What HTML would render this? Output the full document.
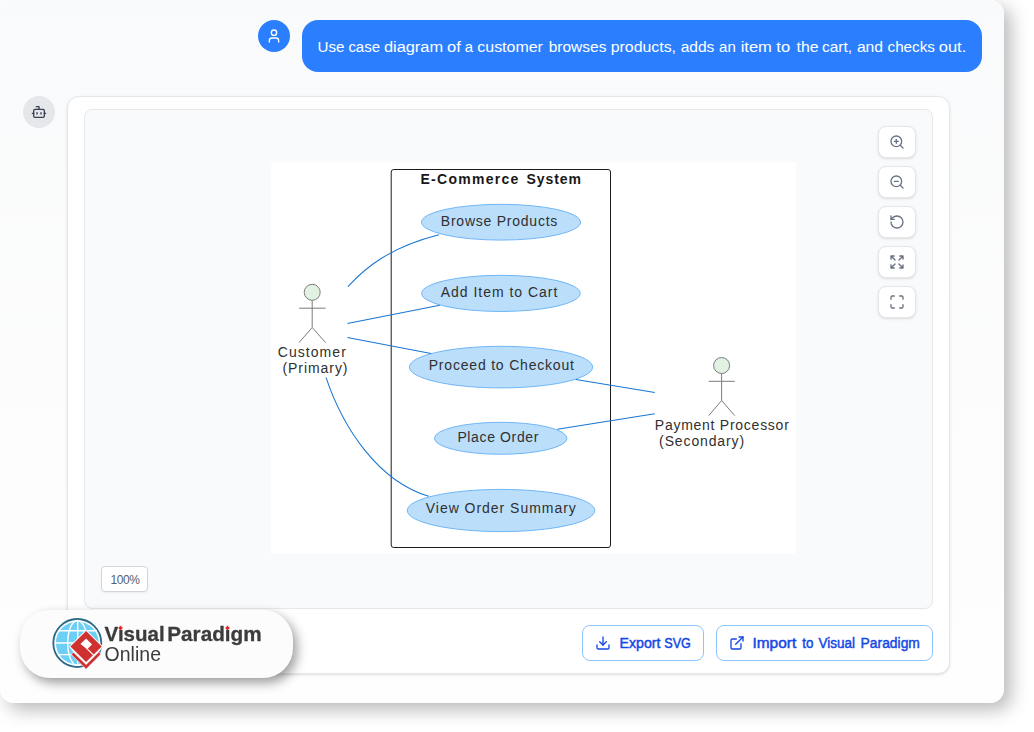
<!DOCTYPE html>
<html lang="en">
<head>
<meta charset="utf-8">
<title>Use Case Diagram</title>
<style>
*{box-sizing:border-box;margin:0;padding:0}
html,body{width:1034px;height:732px;overflow:hidden;background:#fff}
body{position:relative;font-family:"Liberation Sans",sans-serif}
.abs{position:absolute}
#frame{left:0;top:0;width:1004px;height:703px;border-radius:5px 14px 14px 14px;
  background:linear-gradient(180deg,#f9fafb 0%,#fefefe 100%);
  box-shadow:7px 7px 18px rgba(0,0,0,.27)}
#uavatar{left:258px;top:20px;width:32px;height:32px;border-radius:50%;background:#2b7fff}
#bubble{left:302px;top:20px;width:680px;height:52px;border-radius:16px;background:#2b7fff;color:#fff}
#bavatar{left:23px;top:96px;width:32px;height:32px;border-radius:50%;background:#e5e7eb}
#card{left:67px;top:96px;width:883px;height:578px;border-radius:12px;background:#fff;border:1px solid #e5e7eb;
  box-shadow:0 1px 3px rgba(0,0,0,.1),0 1px 2px -1px rgba(0,0,0,.1)}
#panel{left:84px;top:109px;width:849px;height:500px;border-radius:8px;background:#f9fafb;border:1px solid #e5e7eb}
.tb{left:878px;width:38px;height:32px;border-radius:8px;background:#fff;border:1px solid #e5e7eb;box-shadow:0 1px 3px rgba(0,0,0,.1),0 1px 2px -1px rgba(0,0,0,.1)}
.tb svg{position:absolute;left:10px;top:7px}
#zoom{left:101px;top:566px;width:47px;height:26px;border-radius:4px;background:#fff;border:1px solid #d1d5dc;
  font-size:12px;line-height:27px;text-align:center;color:#556070;letter-spacing:-.45px;padding-left:1px;box-shadow:0 1px 2px rgba(0,0,0,.05)}
.btn{top:625px;height:36px;border-radius:8px;background:#fff;border:1px solid #8ec5ff;color:#1447e6}
.btn svg{position:absolute;top:9px}
.btn svg.lbl{left:0;top:0}
#logo{left:20px;top:610px;width:273px;height:68px;border-radius:30px;background:#fcfcfc;will-change:transform;
  box-shadow:4px 5px 11px rgba(0,0,0,.38)}
</style>
</head>
<body>
<div id="frame" class="abs"></div>

<div id="uavatar" class="abs">
<svg class="abs" style="left:8px;top:8px" width="16" height="16" viewBox="0 0 24 24" fill="none" stroke="#fff" stroke-width="2" stroke-linecap="round" stroke-linejoin="round"><path d="M19 21v-2a4 4 0 0 0-4-4H9a4 4 0 0 0-4 4v2"/><circle cx="12" cy="7" r="4"/></svg>
</div>
<div id="bubble" class="abs"><svg class="abs" style="left:0;top:0" width="680" height="52" viewBox="302 20 680 52"><text y="52" transform="translate(0.5 0)" font-family="'Liberation Sans',sans-serif" font-size="15.5" fill="#fff"><tspan x="317.0" textLength="26.9" lengthAdjust="spacingAndGlyphs">Use</tspan> <tspan x="347.9" textLength="31.6" lengthAdjust="spacingAndGlyphs">case</tspan> <tspan x="383.4" textLength="59.2" lengthAdjust="spacingAndGlyphs">diagram</tspan> <tspan x="446.5" textLength="13.8" lengthAdjust="spacingAndGlyphs">of</tspan> <tspan x="464.2" textLength="8.3" lengthAdjust="spacingAndGlyphs">a</tspan> <tspan x="476.8" textLength="65.6" lengthAdjust="spacingAndGlyphs">customer</tspan> <tspan x="548.2" textLength="57.7" lengthAdjust="spacingAndGlyphs">browses</tspan> <tspan x="610.2" textLength="65.3" lengthAdjust="spacingAndGlyphs">products,</tspan> <tspan x="680.2" textLength="33.7" lengthAdjust="spacingAndGlyphs">adds</tspan> <tspan x="718.6" textLength="16.7" lengthAdjust="spacingAndGlyphs">an</tspan> <tspan x="740.2" textLength="31.2" lengthAdjust="spacingAndGlyphs">item</tspan> <tspan x="775.8" textLength="13.8" lengthAdjust="spacingAndGlyphs">to</tspan> <tspan x="796.0" textLength="22.0" lengthAdjust="spacingAndGlyphs">the</tspan> <tspan x="821.4" textLength="30.1" lengthAdjust="spacingAndGlyphs">cart,</tspan> <tspan x="856.4" textLength="26.2" lengthAdjust="spacingAndGlyphs">and</tspan> <tspan x="887.0" textLength="47.5" lengthAdjust="spacingAndGlyphs">checks</tspan> <tspan x="938.2" textLength="27.6" lengthAdjust="spacingAndGlyphs">out.</tspan></text></svg></div>

<div id="bavatar" class="abs">
<svg class="abs" style="left:8px;top:8px" width="16" height="16" viewBox="0 0 24 24" fill="none" stroke="#364153" stroke-width="2" stroke-linecap="round" stroke-linejoin="round"><path d="M12 8V4H8"/><rect width="16" height="12" x="4" y="8" rx="2"/><path d="M2 14h2"/><path d="M20 14h2"/><path d="M15 13v2"/><path d="M9 13v2"/></svg>
</div>

<div id="card" class="abs"></div>
<div id="panel" class="abs"></div>

<svg id="diagram" class="abs" style="left:270px;top:162px" width="527" height="392" viewBox="270 162 527 392" font-family="'Liberation Sans',sans-serif" font-size="14">
<rect x="271.2" y="162.2" width="524.6" height="391.4" fill="#fff"/>
<rect x="391.2" y="169.5" width="219.3" height="378" rx="2.5" fill="none" stroke="#1c1c1c" stroke-width="1"/>
<text y="184" font-weight="bold" fill="#181818"><tspan x="420.5" textLength="97.8" lengthAdjust="spacing">E-Commerce</tspan> <tspan x="526.4" textLength="54.6" lengthAdjust="spacing">System</tspan></text>
<g fill="#bbdefb" stroke="#64b0f4" stroke-width="0.9">
<ellipse cx="501" cy="222.2" rx="79.5" ry="17.9"/>
<ellipse cx="500.9" cy="293.4" rx="79.3" ry="18.1"/>
<ellipse cx="501" cy="367.1" rx="91.6" ry="20.8"/>
<ellipse cx="500.7" cy="438.3" rx="66.3" ry="16"/>
<ellipse cx="501" cy="510.5" rx="93.8" ry="21.1"/>
</g>
<g fill="#303030">
<text x="440.8" y="226" textLength="116.5" lengthAdjust="spacing">Browse Products</text>
<text x="440.8" y="297" textLength="116.5" lengthAdjust="spacing">Add Item to Cart</text>
<text x="428.7" y="369.5" textLength="145.2" lengthAdjust="spacing">Proceed to Checkout</text>
<text x="457.4" y="442" textLength="81" lengthAdjust="spacing">Place Order</text>
<text x="425.8" y="512.5" textLength="150" lengthAdjust="spacing">View Order Summary</text>
<text x="277.8" y="357" textLength="68" lengthAdjust="spacing">Customer</text>
<text x="282.5" y="373" textLength="65" lengthAdjust="spacing">(Primary)</text>
<text x="654.8" y="430.3" textLength="134" lengthAdjust="spacing">Payment Processor</text>
<text x="659.1" y="446.4" textLength="85" lengthAdjust="spacing">(Secondary)</text>
</g>
<g fill="none" stroke="#1976d2" stroke-width="1.05">
<path d="M348,286.6 C365,268 390,247 438.9,234.7"/>
<path d="M347.4,323.4 L439.7,305.2"/>
<path d="M347.4,337.4 L431,353.5"/>
<path d="M326,377.3 C343,428 378,481 428.7,496.3"/>
<path d="M575.9,379.5 L654.8,392.5"/>
<path d="M557.3,429.2 L654.8,413.7"/>
</g>
<g fill="#e2f2e2" stroke="#7c7c7c" stroke-width="1">
<circle cx="312.2" cy="292.3" r="8"/>
<path d="M312.2,300.3 V327.5 M299,308.2 H325.6 M312.2,327.5 L299,342.6 M312.2,327.5 L325.6,342.6" fill="none"/>
<circle cx="721.6" cy="365.5" r="8"/>
<path d="M721.6,373.5 V400.5 M708.7,381.3 H734.8 M721.6,400.5 L708.7,415.7 M721.6,400.5 L734.8,415.7" fill="none"/>
</g>
</svg>

<div class="abs tb" style="top:126px"><svg width="16" height="16" viewBox="0 0 24 24" fill="none" stroke="#6a7282" stroke-width="2" stroke-linecap="round" stroke-linejoin="round"><circle cx="11" cy="11" r="8"/><line x1="21" x2="16.65" y1="21" y2="16.65"/><line x1="11" x2="11" y1="8" y2="14"/><line x1="8" x2="14" y1="11" y2="11"/></svg></div>
<div class="abs tb" style="top:166px"><svg width="16" height="16" viewBox="0 0 24 24" fill="none" stroke="#6a7282" stroke-width="2" stroke-linecap="round" stroke-linejoin="round"><circle cx="11" cy="11" r="8"/><line x1="21" x2="16.65" y1="21" y2="16.65"/><line x1="8" x2="14" y1="11" y2="11"/></svg></div>
<div class="abs tb" style="top:206px"><svg width="16" height="16" viewBox="0 0 24 24" fill="none" stroke="#6a7282" stroke-width="2" stroke-linecap="round" stroke-linejoin="round"><path d="M3 12a9 9 0 1 0 9-9 9.75 9.75 0 0 0-6.74 2.74L3 8"/><path d="M3 3v5h5"/></svg></div>
<div class="abs tb" style="top:246px"><svg width="16" height="16" viewBox="0 0 24 24" fill="none" stroke="#6a7282" stroke-width="2" stroke-linecap="round" stroke-linejoin="round"><path d="m21 21-6-6m6 6v-4.8m0 4.8h-4.8"/><path d="M3 16.2V21m0 0h4.8M3 21l6-6"/><path d="M21 7.8V3m0 0h-4.8M21 3l-6 6"/><path d="M3 7.8V3m0 0h4.8M3 3l6 6"/></svg></div>
<div class="abs tb" style="top:286px"><svg width="16" height="16" viewBox="0 0 24 24" fill="none" stroke="#6a7282" stroke-width="2" stroke-linecap="round" stroke-linejoin="round"><path d="M8 3H5a2 2 0 0 0-2 2v3"/><path d="M21 8V5a2 2 0 0 0-2-2h-3"/><path d="M3 16v3a2 2 0 0 0 2 2h3"/><path d="M16 21h3a2 2 0 0 0 2-2v-3"/></svg></div>

<div id="zoom" class="abs">100%</div>

<div class="abs btn" style="left:582px;width:122px">
<svg style="left:12px" width="16" height="16" viewBox="0 0 24 24" fill="none" stroke="#1447e6" stroke-width="2" stroke-linecap="round" stroke-linejoin="round"><path d="M21 15v4a2 2 0 0 1-2 2H5a2 2 0 0 1-2-2v-4"/><polyline points="7 10 12 15 17 10"/><line x1="12" x2="12" y1="15" y2="3"/></svg>
<svg class="lbl" width="120" height="34" viewBox="583 626 120 34"><text y="648" font-family="'Liberation Sans',sans-serif" font-size="14" fill="#1447e6" stroke="#1447e6" stroke-width=".45"><tspan x="619.6" textLength="40.9" lengthAdjust="spacingAndGlyphs">Export</tspan> <tspan x="664.3" textLength="26.6" lengthAdjust="spacingAndGlyphs">SVG</tspan></text></svg></div>
<div class="abs btn" style="left:716px;width:217px">
<svg style="left:12px" width="16" height="16" viewBox="0 0 24 24" fill="none" stroke="#1447e6" stroke-width="2" stroke-linecap="round" stroke-linejoin="round"><path d="M15 3h6v6"/><path d="M10 14 21 3"/><path d="M18 13v6a2 2 0 0 1-2 2H5a2 2 0 0 1-2-2V8a2 2 0 0 1 2-2h6"/></svg>
<svg class="lbl" width="215" height="34" viewBox="717 626 215 34"><text y="648" font-family="'Liberation Sans',sans-serif" font-size="14" fill="#1447e6" stroke="#1447e6" stroke-width=".45"><tspan x="752.5" textLength="43.7" lengthAdjust="spacingAndGlyphs">Import</tspan> <tspan x="802.2" textLength="11.1" lengthAdjust="spacingAndGlyphs">to</tspan> <tspan x="818.4" textLength="36.6" lengthAdjust="spacingAndGlyphs">Visual</tspan> <tspan x="860.6" textLength="59.3" lengthAdjust="spacingAndGlyphs">Paradigm</tspan></text></svg></div>

<div id="logo" class="abs">
<svg class="abs" style="left:0;top:0" width="273" height="68" viewBox="0 0 273 68" font-family="'Liberation Sans',sans-serif">
<circle cx="57.3" cy="33" r="24" fill="#fff" stroke="#2a6a87" stroke-width="1.8"/>
<circle cx="57.3" cy="33" r="21.4" fill="#6dcff6"/>
<g fill="none" stroke="#fff" stroke-width="1.4">
<path d="M57.7,11 V55 M35,33 H80 M38,20.8 H77 M38,44.6 H77"/>
<ellipse cx="57.5" cy="33" rx="9.8" ry="22.5"/>
</g>
<path d="M66.1,19.9 L82.8,36.4 L66.1,60.6 L49.4,36.4 Z" fill="#fff"/>
<path d="M51.3,44.5 L53.5,42.3 L66.1,54.6 L78.7,42.1 L80.9,44.2 L66.1,59.3 Z" fill="#cf3030" stroke="#fff" stroke-width="0.6"/>
<path d="M66.1,20.9 L81.8,36.4 L66.1,52.1 L50.4,36.4 Z" fill="#cf3030" stroke="#fff" stroke-width="1.6" paint-order="stroke"/>
<path d="M66.1,28.5 L72,34.4 L67.1,39.3 L60.5,34.1 Z" fill="#fff"/>
<path d="M66.7,38.4 L73.8,45.4" stroke="#fff" stroke-width="1.2" fill="none"/>
<text y="31.1" font-weight="bold" font-size="20.5" fill="#3c3c3c" stroke="#3c3c3c" stroke-width=".3"><tspan x="84.6">Visual</tspan> <tspan x="147.3" textLength="94.3" lengthAdjust="spacingAndGlyphs">Paradigm</tspan></text>
<text x="84.6" y="50.8" font-size="20.5" fill="#3c3c3c" textLength="56.4" lengthAdjust="spacingAndGlyphs">Online</text>
<g fill="#fcfcfc"><rect x="98.2" y="15.4" width="4.6" height="4.6"/><rect x="205.2" y="15.4" width="4.6" height="4.6"/></g>
<g fill="#e02525">
<path d="M100.5,15.8 L102.8,18.1 L100.5,20.4 L98.2,18.1 Z"/>
<path d="M207.5,15.8 L209.8,18.1 L207.5,20.4 L205.2,18.1 Z"/>
</g>
</svg>
</div>
</body>
</html>
